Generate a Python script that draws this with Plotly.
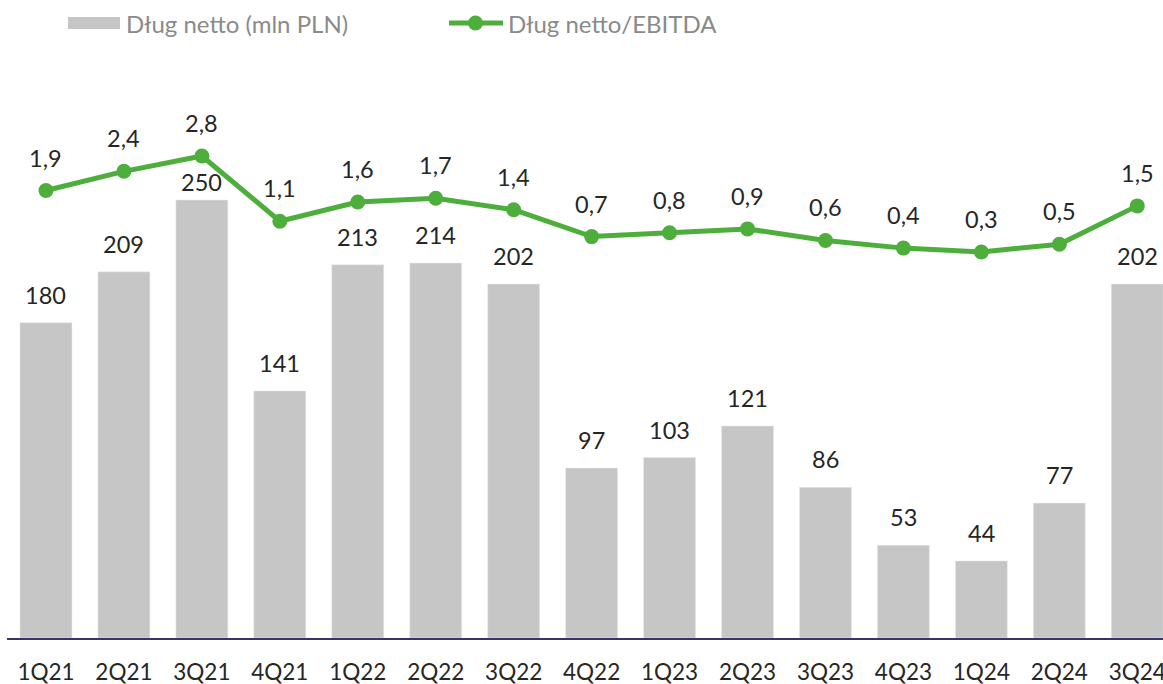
import plotly.graph_objects as go

categories = ["1Q21", "2Q21", "3Q21", "4Q21", "1Q22", "2Q22", "3Q22", "4Q22",
              "1Q23", "2Q23", "3Q23", "4Q23", "1Q24", "2Q24", "3Q24"]
debt = [180, 209, 250, 141, 213, 214, 202, 97, 103, 121, 86, 53, 44, 77, 202]
ratio = [1.9, 2.4, 2.8, 1.1, 1.6, 1.7, 1.4, 0.7, 0.8, 0.9, 0.6, 0.4, 0.3, 0.5, 1.5]

bar_name = "Dług netto (mln PLN)"
line_name = "Dług netto/EBITDA"

# layout geometry (pixels)
W, H = 1163, 684
ML, MR, MT, MB = 7, 0, 60, 46
PW, PH = W - ML - MR, H - MT - MB

def px_x(p):
    return (p - ML) / PW

def px_y(p):
    return (H - MB - p) / PH

FONT = "Lato, 'Open Sans', sans-serif"
TXT = "#262626"
GREEN = "#4DAE3C"
GRAY = "#C6C6C6"

fig = go.Figure()
fig.add_trace(go.Bar(x=categories, y=debt, marker_color=GRAY, width=0.667,
                     name=bar_name, showlegend=False, yaxis="y"))
fig.add_trace(go.Scatter(x=categories, y=ratio, mode="lines+markers",
                         line=dict(color=GREEN, width=5),
                         marker=dict(color=GREEN, size=15),
                         name=line_name, showlegend=False, yaxis="y2"))

annotations = []
for i, (c, v) in enumerate(zip(categories, debt)):
    shift = 18 if v == max(debt) else 28
    annotations.append(dict(x=c, y=v, xref="x", yref="y", text=str(v),
                            showarrow=False, yanchor="middle", yshift=shift,
                            font=dict(family=FONT, size=23.5, color=TXT)))
for c, v in zip(categories, ratio):
    annotations.append(dict(x=c, y=v, xref="x", yref="y2",
                            text=f"{v:.1f}".replace(".", ","),
                            showarrow=False, yanchor="middle", yshift=33,
                            font=dict(family=FONT, size=23.5, color=TXT)))

# custom legend
LEG_Y = 23
annotations.append(dict(x=px_x(124), y=px_y(LEG_Y), xref="paper", yref="paper",
                        text=bar_name, showarrow=False, xanchor="left", yanchor="middle",
                        font=dict(family=FONT, size=24, color="#8A8A8A")))
annotations.append(dict(x=px_x(506), y=px_y(LEG_Y), xref="paper", yref="paper",
                        text=line_name, showarrow=False, xanchor="left", yanchor="middle",
                        font=dict(family=FONT, size=24, color="#8A8A8A")))
shapes = [
    dict(type="rect", xref="paper", yref="paper", x0=px_x(68), x1=px_x(120),
         y0=px_y(29), y1=px_y(17), fillcolor=GRAY, line=dict(width=0)),
    dict(type="line", xref="paper", yref="paper", x0=px_x(449), x1=px_x(503),
         y0=px_y(LEG_Y), y1=px_y(LEG_Y), line=dict(color=GREEN, width=5)),
    dict(type="circle", xref="paper", yref="paper", x0=px_x(468), x1=px_x(483),
         y0=px_y(LEG_Y + 7.5), y1=px_y(LEG_Y - 7.5), fillcolor=GREEN,
         line=dict(width=0)),
]

fig.update_layout(
    width=W, height=H,
    margin=dict(l=ML, r=MR, t=MT, b=MB, autoexpand=False),
    paper_bgcolor="white", plot_bgcolor="white",
    showlegend=False,
    annotations=annotations,
    shapes=shapes,
    xaxis=dict(type="category", range=[-0.5, 14.33], showgrid=False,
               showline=True, linecolor="#37346B", linewidth=2,
               ticks="", ticklabelstandoff=13, automargin=False,
               tickfont=dict(family=FONT, size=22.5, color=TXT)),
    yaxis=dict(range=[0, 329.9], visible=False, showgrid=False, fixedrange=True),
    yaxis2=dict(range=[-9.753, 5.299], overlaying="y", visible=False,
                showgrid=False, side="right"),
)

fig.write_html(
    "out.html",
    config={"displayModeBar": False},
    post_script="document.body.style.margin='0';document.body.style.overflow='hidden';",
)
